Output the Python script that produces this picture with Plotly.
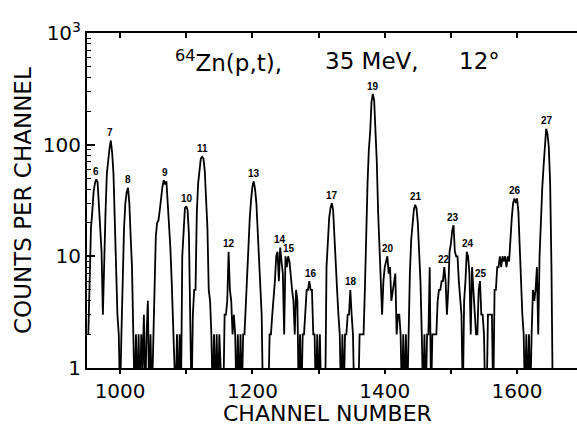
import math
import plotly.graph_objects as go

# ---------------- data ----------------
channel_start = 952
channel_step = 2
counts = [
    2, 9, 18, 25, 38, 45, 49, 46, 30, 17,          # 952
    11, 3, 12, 25, 55, 75, 92, 109, 85, 55,        # 972
    18, 8, 3, 2, 0, 2, 8, 18, 30, 38,              # 992
    41, 30, 15, 8, 2, 0, 2, 0, 2, 0,               # 1012
    2, 1, 3, 0, 2, 4, 0, 2, 0, 2,                  # 1032
    6, 15, 20, 21, 26, 35, 42, 48, 44, 47,         # 1052
    30, 18, 12, 6, 3, 2, 0, 2, 0, 2,               # 1072
    0, 10, 20, 27, 28, 26, 16, 5, 0, 3,            # 1092
    5, 5, 25, 45, 60, 75, 78, 75, 58, 35,          # 1112
    18, 5, 4, 2, 0, 2, 0, 2, 0, 2,                 # 1132
    0, 0, 0, 3, 3, 4, 11, 5, 4, 2,                 # 1152
    3, 2, 0, 2, 0, 2, 0, 2, 2, 4,                  # 1172
    8, 14, 22, 32, 42, 47, 40, 30, 18, 10,         # 1192
    5, 3, 0, 0, 0, 0, 0, 2, 2, 3,                  # 1212
    4, 6, 10, 11, 6, 12, 9, 7, 2, 10,              # 1232
    8, 10, 9, 6, 5, 4, 2, 5, 4, 0,                 # 1252
    2, 0, 2, 2, 3, 5, 5, 6, 5, 5,                  # 1272
    2, 2, 0, 2, 0, 2, 0, 0, 0, 0,                  # 1292
    8, 16, 22, 27, 30, 26, 14, 7, 5, 3,            # 1312
    2, 0, 2, 0, 2, 2, 3, 3, 5, 3,                  # 1332
    2, 0, 0, 0, 0, 2, 2, 2, 2, 5,                  # 1352
    18, 45, 90, 130, 240, 285, 250, 150, 70, 25,   # 1372
    12, 8, 3, 6, 8, 9, 10, 7, 8, 4,                # 1392
    5, 6, 7, 2, 3, 3, 2, 0, 2, 0,                  # 1412
    2, 0, 2, 7, 14, 21, 26, 29, 27, 20,            # 1432
    12, 6, 2, 0, 2, 0, 2, 2, 8, 0,                 # 1452
    2, 2, 2, 2, 4, 5, 5, 6, 6, 8,                  # 1472
    6, 3, 5, 11, 13, 17, 19, 11, 10, 10,           # 1492
    6, 4, 3, 0, 4, 6, 11, 10, 7, 2,                # 1512
    8, 5, 3, 2, 2, 5, 6, 3, 3, 2,                  # 1532
    0, 0, 3, 3, 3, 3, 0, 5, 5, 8,                  # 1552
    8, 10, 8, 10, 9, 10, 8, 10, 9, 15,             # 1572
    22, 30, 33, 30, 33, 25, 11, 5, 3, 2,           # 1592
    0, 2, 0, 2, 0, 2, 5, 4, 5, 8,                  # 1612
    2, 10, 22, 40, 63, 105, 139, 125, 95, 45,      # 1632
    8, 0, 0, 0, 0, 0, 0, 0, 0, 0,                  # 1652
    0, 0, 0, 0, 0, 0, 0, 0, 0, 0,                  # 1672
]
channels = [channel_start + channel_step * i for i in range(len(counts))]

peak_numbers = list(range(6, 28))
peak_channels = [964, 985, 1012, 1068, 1101, 1124, 1165, 1202, 1242, 1255, 1289,
                 1320, 1349, 1382, 1405, 1447, 1490, 1503, 1526, 1545, 1597, 1645]
peak_heights = [49, 109, 41, 48, 28, 78, 11, 47, 12, 10, 6,
                30, 5, 280, 10, 29, 8, 19, 11, 6, 33, 139]

x_label_values = [1000, 1200, 1400, 1600]
x_label_texts = ["1000", "1200", "1400", "1600"]
x_minor_values = [1100, 1300, 1500]
x_all_ticks = [1000, 1100, 1200, 1300, 1400, 1500, 1600]
y_tick_values = [1, 10, 100, 1000]
y_tick_labels = ["1", "10", "100", "10<sup>3</sup>"]
y_minor_values = [m * d for d in (1, 10, 100) for m in range(2, 10)]

title_parts = ["<sup>64</sup>Zn(p,t),", "35 MeV,", "12°"]
x_title = "CHANNEL NUMBER"
y_title = "COUNTS PER CHANNEL"

# zero-count channels drop below the axis floor
plot_counts = [c if c > 0 else 0.5 for c in counts]

FONT = "DejaVu Sans"

fig = go.Figure()
fig.add_trace(go.Scatter(x=channels, y=plot_counts, mode="lines",
                         line=dict(color="black", width=1.8),
                         showlegend=False, hoverinfo="skip"))
fig.add_trace(go.Scatter(x=[channels[0]], y=[1], xaxis="x2", mode="markers",
                         marker=dict(opacity=0), showlegend=False, hoverinfo="skip"))

fig.update_layout(
    width=577, height=428,
    margin=dict(l=87, r=0, t=33, b=60),
    paper_bgcolor="white", plot_bgcolor="white",
    font=dict(family=FONT, color="black"),
    xaxis=dict(range=[950, 1690.6], tickvals=x_label_values, ticktext=x_label_texts,
               ticks="outside", ticklen=4, tickwidth=1.5, tickcolor="black",
               minor=dict(tickvals=x_minor_values, ticks="outside", ticklen=4,
                          tickwidth=1.5, tickcolor="black"),
               showline=True, linewidth=2, linecolor="black",
               showgrid=False, zeroline=False,
               tickfont=dict(family=FONT, size=20, color="black")),
    xaxis2=dict(range=[950, 1690.6], overlaying="x", side="top",
                tickvals=x_all_ticks, showticklabels=False,
                ticks="inside", ticklen=5, tickwidth=1.5, tickcolor="black",
                showline=True, linewidth=2, linecolor="black",
                showgrid=False, zeroline=False),
    yaxis=dict(type="log", range=[0, 3], tickvals=y_tick_values, ticktext=y_tick_labels,
               ticks="inside", ticklen=8, tickwidth=1.5, tickcolor="black",
               minor=dict(tickvals=y_minor_values, ticks="inside", ticklen=4,
                          tickwidth=1, tickcolor="black"),
               showline=True, linewidth=2, linecolor="black",
               showgrid=False, zeroline=False,
               tickfont=dict(family=FONT, size=20, color="black")),
)

annotations = []
for xp, txt in zip([0.1755, 0.4816, 0.7551], title_parts):
    annotations.append(dict(x=xp, y=0.9164, xref="paper", yref="paper",
                            xanchor="left", yanchor="middle", showarrow=False,
                            text=txt, font=dict(family=FONT, size=23, color="black")))
annotations.append(dict(x=0.4898, y=-0.1373, xref="paper", yref="paper",
                        xanchor="center", yanchor="middle", showarrow=False,
                        text=x_title, font=dict(family=FONT, size=22, color="black")))
annotations.append(dict(x=-0.1306, y=0.4985, xref="paper", yref="paper",
                        xanchor="center", yanchor="middle", showarrow=False,
                        textangle=-90,
                        text=y_title, font=dict(family=FONT, size=23, color="black")))
for n, ch, h in zip(peak_numbers, peak_channels, peak_heights):
    annotations.append(dict(x=ch, y=math.log10(h), xref="x", yref="y",
                            xanchor="center", yanchor="middle", yshift=8,
                            showarrow=False, text=f"<b>{n}</b>",
                            font=dict(family="Liberation Sans", size=10, color="black")))
fig.update_layout(annotations=annotations)

fig.write_html("out.html")
